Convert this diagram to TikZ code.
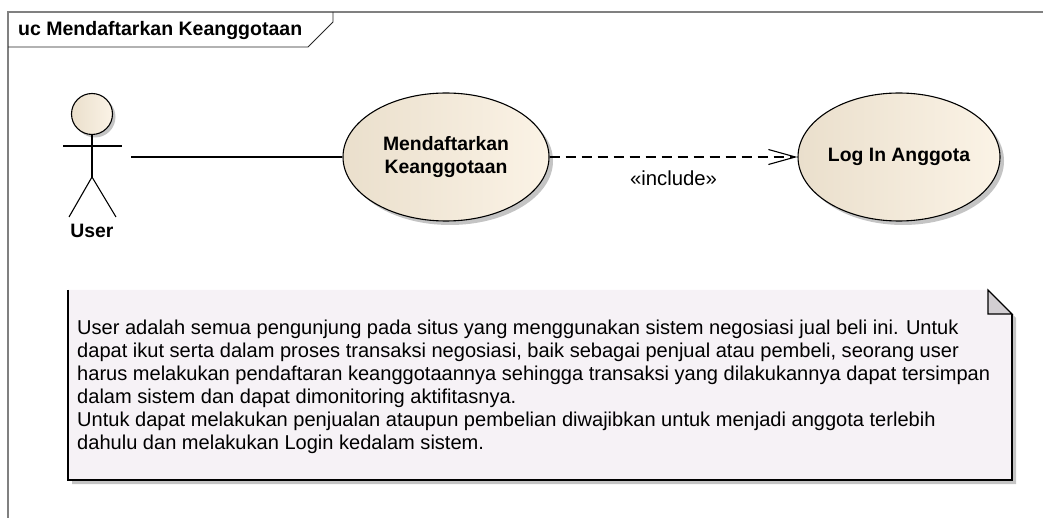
\documentclass[tikz,border=0pt]{standalone}
\usepackage{fontspec}
\setmainfont{Liberation Sans}
\usetikzlibrary{shapes.geometric,arrows.meta,shadows}

\definecolor{framegray}{HTML}{808080}
\definecolor{ucleft}{HTML}{EADFCC}
\definecolor{ucright}{HTML}{FBF3E6}
\definecolor{shadowgray}{HTML}{C4C4C4}
\definecolor{notefill}{HTML}{F6F2F6}
\definecolor{earfill}{HTML}{D2CED2}

% font size that makes a sample text exactly as wide as wanted
\newlength\fitlen
\newcommand\sizefor[3]{%
  \settowidth\fitlen{\normalfont\fontsize{10pt}{12pt}\selectfont #3}%
  \pgfmathsetmacro#1{10*#2/\fitlen}}

\tikzset{
  usecase/.style={ellipse, draw=black, line width=1.1pt, inner sep=0pt,
    left color=ucleft, right color=ucright, shading angle=90,
    drop shadow={shadow xshift=4pt, shadow yshift=-4pt, fill=shadowgray, opacity=1},
    align=center},
  boldlabel/.style={font={\fontsize{\boldsize pt}{23pt}\selectfont\bfseries}},
  stick/.style={line width=1.1pt, black},
  assoc/.style={line width=1.1pt, black},
  includeline/.style={line width=1.1pt, black, dash pattern=on 10pt off 6pt,
    -{Straight Barb[length=27pt,width=15pt,line width=1.1pt]}},
  notetext/.style={font={\fontsize{\notesize pt}{\notesize pt}\selectfont},
    anchor=base west, inner sep=0pt},
}

\begin{document}
\sizefor\titlesize{284}{\bfseries uc Mendaftarkan Keanggotaan}%
\sizefor\boldsize{126}{\bfseries Mendaftarkan}%
\sizefor\inclsize{87}{«include»}%
\sizefor\notesize{913}{harus melakukan pendaftaran keanggotaannya sehingga transaksi yang dilakukannya dapat tersimpan}%
\begin{tikzpicture}[x=1pt,y=-1pt]
\useasboundingbox (0,0) rectangle (1043,518);

% diagram frame and its title tab
\draw[framegray, line width=1.2pt] (8,518) -- (8,12) -- (1043,12);
\draw[black!85, line width=0.8pt] (8,47) -- (308,47) -- (333,22) -- (333,12);
\node[anchor=base west, inner sep=0pt,
  font={\fontsize{\titlesize pt}{\titlesize pt}\selectfont\bfseries}] (title) at (18,36)
  {uc Mendaftarkan Keanggotaan};

% actor
\fill[shadowgray] (95,117) circle[radius=20.5];
\draw[line width=1.1pt, left color=ucleft, right color=ucright, shading angle=90]
  (92,114) circle[radius=20.5];
\draw[stick] (63,146) -- (122,146);
\draw[stick] (92,134.5) -- (92,177);
\draw[stick] (69,217) -- (92,177) -- (116,217);
\node[boldlabel, inner sep=0pt] (user) at (92,231) {User};
\coordinate (userlink) at (131,157);

% use cases
\node[usecase, boldlabel, minimum width=206pt, minimum height=128pt] (daftar) at (446,157)
  {Mendaftarkan\\Keanggotaan};
\node[usecase, boldlabel, minimum width=202pt, minimum height=128pt] (login) at (899,157)
  {\raisebox{3pt}{Log In Anggota}};

% relationships
\draw[assoc] (userlink) -- (daftar.west);
\draw[includeline] (daftar.east) -- (login.west)
  node[midway, below=13pt, inner sep=0pt,
    font={\fontsize{\inclsize pt}{\inclsize pt}\selectfont}] (incl) {«include»};

% note with folded corner
\fill[shadowgray] (72,294) -- (992,294) -- (1016,318) -- (1016,484) -- (72,484) -- cycle;
\fill[notefill] (68,290) -- (988,290) -- (1012,314) -- (1012,480) -- (68,480) -- cycle;
\draw[black, line width=1.1pt] (68,290) -- (68,480) -- (1012,480) -- (1012,314);
\draw[black, line width=1.1pt, fill=earfill] (988,290) -- (988,314) -- (1012,314) -- cycle;

\node[notetext] (n1) at (77,334.5) {User adalah semua pengunjung pada situs yang menggunakan sistem negosiasi jual beli ini. Untuk};
\node[notetext] (n2) at (77,357.5) {dapat ikut serta dalam proses transaksi negosiasi, baik sebagai penjual atau pembeli, seorang user};
\node[notetext] (n3) at (77,380.5) {harus melakukan pendaftaran keanggotaannya sehingga transaksi yang dilakukannya dapat tersimpan};
\node[notetext] (n4) at (77,403.5) {dalam sistem dan dapat dimonitoring aktifitasnya.};
\node[notetext] (n5) at (77,426.5) {Untuk dapat melakukan penjualan ataupun pembelian diwajibkan untuk menjadi anggota terlebih};
\node[notetext] (n6) at (77,449.5) {dahulu dan melakukan Login kedalam sistem.};
\end{tikzpicture}
\end{document}
